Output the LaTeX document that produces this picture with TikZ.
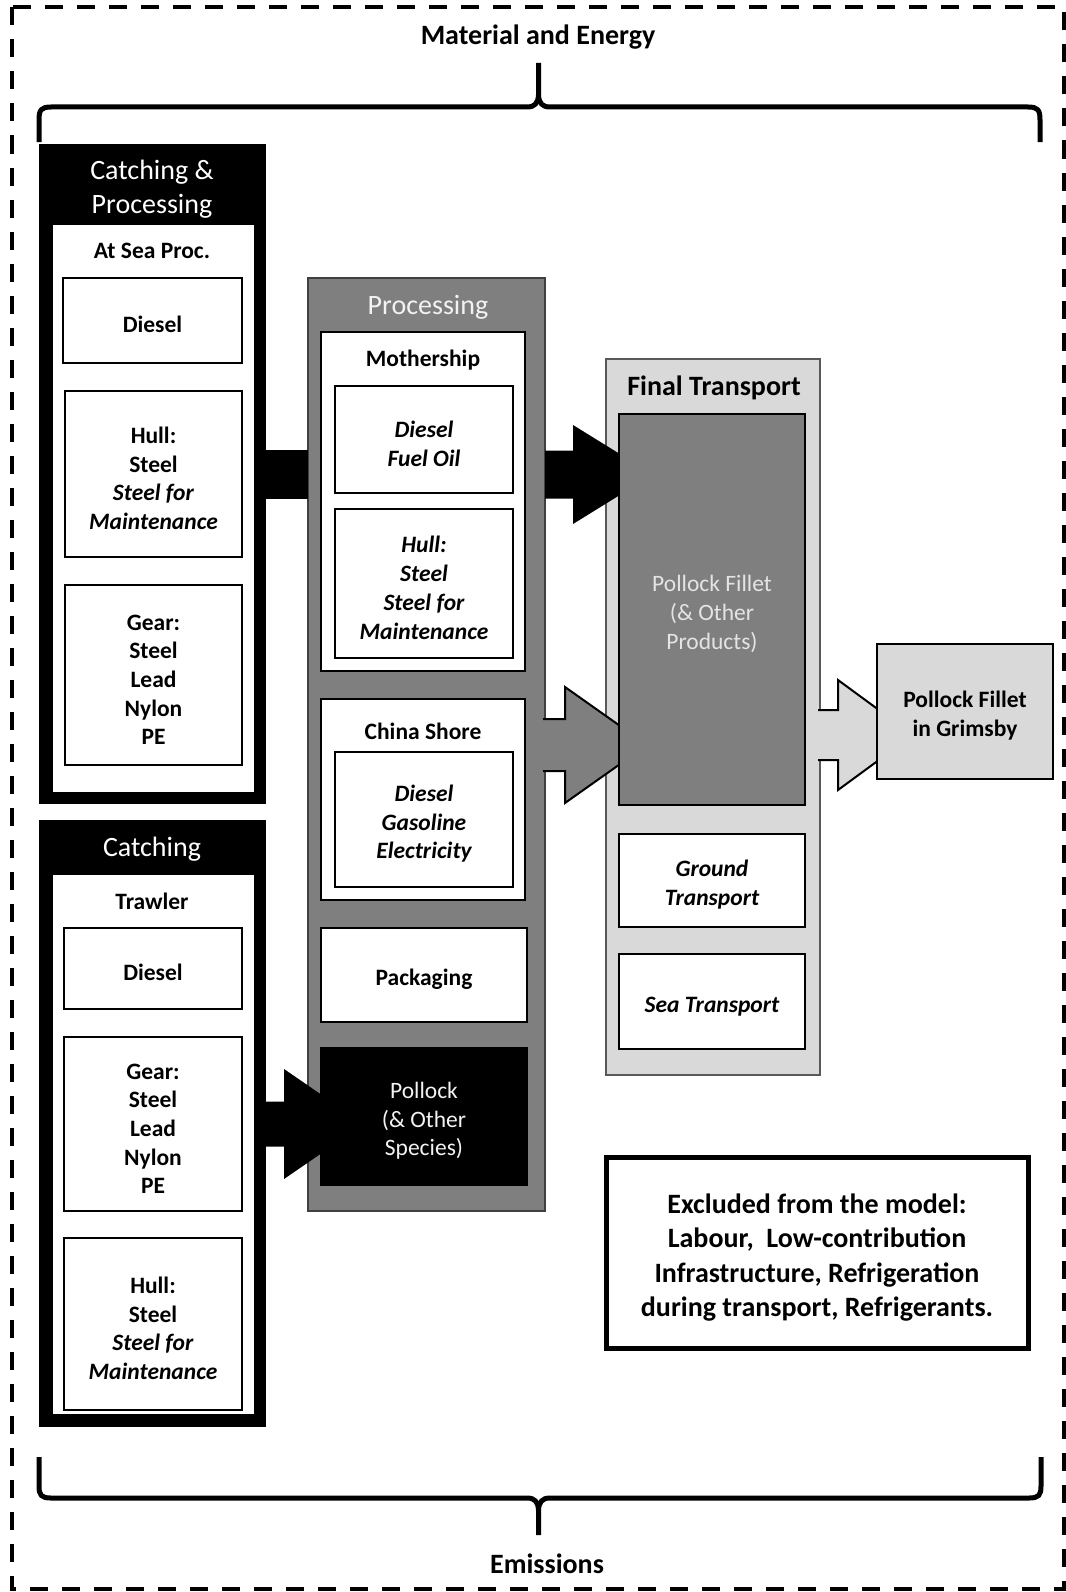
\documentclass[tikz,border=0pt]{standalone}
\usepackage{fontspec}
\setmainfont{Carlito}

\definecolor{midgray}{HTML}{7F7F7F}
\definecolor{palegray}{HTML}{D9D9D9}
\definecolor{lighttext}{HTML}{F2F2F2}
\definecolor{filltext}{HTML}{E4E4E4}

\newcommand\boxfont{\fontsize{23.5}{28.7}\selectfont}
\newcommand\headfont{\fontsize{28}{34.5}\selectfont}
% strut for the first line of a box text: sets the text block a little lower
\newcommand\fl{\rule{0pt}{1.07em}}

% block arrow: #1 fill, #2 start coordinate (left middle), #3 shaft length,
% #4 shaft half height, #5 head half height, #6 head length, #7 outline style
\newcommand\blockarrow[7]{%
  \fill[#1] (#2) ++(0,-#4) -- ++(#3,0) -- ++(0,#4-#5) -- ++(#6,#5)
    -- ++(-#6,#5) -- ++(0,#4-#5) -- ++(-#3,0) -- cycle;
  \draw[#7] (#2) ++(0,-#4) -- ++(#3,0) -- ++(0,#4-#5) -- ++(#6,#5)
    -- ++(-#6,#5) -- ++(0,#4-#5) -- ++(-#3,0);
}

\tikzset{
  % a node spanning the rectangle with corners (x1,y1) and (x2,y2)
  span/.style args={#1,#2,#3,#4}{anchor=center,
    at={({(#1+#3)/2},{(#2+#4)/2})},
    minimum width={(#3-#1)*1pt}, minimum height={(#4-#2)*1pt}},
  panel/.style={inner sep=0pt, outer sep=0pt, draw=none},
  box/.style={inner sep=0pt, outer sep=0pt, draw=black, line width=2pt,
    fill=white, align=center, font=\boxfont\bfseries},
  itbox/.style={box, font=\boxfont\bfseries\itshape},
  label/.style={inner sep=0pt, align=center, font=\boxfont\bfseries},
  heading/.style={inner sep=0pt, align=center, font=\headfont},
  brace/.style={line width=5pt, line join=round},
}

\begin{document}
\begin{tikzpicture}[x=1pt, y=-1pt]
\useasboundingbox (0,0) rectangle (1065,1592);
\fill[white] (0,0) rectangle (1065,1592);

% system boundary
\draw[line width=4pt, dash pattern=on 18pt off 14pt] (11.5,7.5) rectangle (1063.5,1589);

% inputs and outputs
\node[heading, font=\headfont\bfseries] (inputs) at (538,37) {Material and Energy};
\draw[brace] (39,142) -- (39,120) .. controls (39,110) and (41,107) .. (51,107)
  -- (527,107) .. controls (535,107) and (538,103) .. (538.5,95) -- (538.5,63);
\draw[brace] (538.5,95) .. controls (539,103) and (542,107) .. (550,107)
  -- (1028,107) .. controls (1038,107) and (1040,110) .. (1040,120) -- (1040,142);

\draw[brace] (39,1457) -- (39,1486) .. controls (39,1495) and (41,1498) .. (51,1498)
  -- (527,1498) .. controls (535,1498) and (538,1502) .. (538.5,1510) -- (538.5,1535);
\draw[brace] (538.5,1510) .. controls (539,1502) and (542,1498) .. (550,1498)
  -- (1029,1498) .. controls (1039,1498) and (1041,1495) .. (1041,1486) -- (1041,1457);
\node[heading, font=\headfont\bfseries] (outputs) at (547,1564) {Emissions};

% catching & processing (at-sea processing vessel)
\node[panel, fill=black, span={39,144,266,804}] (cpout) {};
\node[heading, text=white] (cptitle) at (152,189) {Catching \&\\Processing};
\node[panel, fill=white, span={53,225,254,792}] (cpin) {};
\node[label] (cpname) at (152,251) {At Sea Proc.};
\node[box, span={63,278,242,363}] (cpdiesel) {\fl Diesel};
\node[box, span={65,391,242,557}] (cphull) {\fl Hull:\\Steel\\\textit{Steel for}\\\textit{Maintenance}};
\node[box, span={65,585,242,765}] (cpgear) {\fl Gear:\\Steel\\Lead\\Nylon\\PE};

% catching (trawler)
\node[panel, fill=black, span={39,820,266,1427}] (cout) {};
\node[heading, text=white] (ctitle) at (152,849) {Catching};
\node[panel, fill=white, span={53,875,254,1414}] (cin) {};
\node[label] (cname) at (152,901) {Trawler};
\node[box, span={64,928,242,1009}] (cdiesel) {\fl Diesel};
\node[box, span={64,1037,242,1211}] (cgear) {\fl Gear:\\Steel\\Lead\\Nylon\\PE};
\node[box, span={64,1238,242,1410}] (chull) {\fl Hull:\\Steel\\\textit{Steel for}\\\textit{Maintenance}};

% processing
\node[panel, fill=midgray, draw=black!75, line width=2pt, span={308,278,545,1211}] (proc) {};
\node[heading, text=lighttext] (proctitle) at (428,307) {Processing};

% flows into processing
\fill[black] (cpout.east |- 0,450) rectangle (proc.west |- 0,499);
\coordinate (a5) at (cout.east |- 0,1124);
\blockarrow{black}{a5}{18}{22.5}{55}{80}{draw=none}

\node[box, span={321,332,525,671}] (moth) {};
\node[label] (mothname) at (423,360) {Mothership};
\node[itbox, span={335,386,513,493}] (mothfuel) {\fl Diesel\\Fuel Oil};
\node[itbox, span={335,509,513,658}] (mothhull) {\fl Hull:\\Steel\\Steel for\\Maintenance};

\node[box, span={321,699,525,900}] (shore) {};
\node[label] (shorename) at (423,731) {China Shore};
\node[itbox, span={335,752,513,887}] (shorefuel) {\fl Diesel\\Gasoline\\Electricity};

\node[box, span={321,928,527,1022}] (pack) {\fl Packaging};
\node[box, fill=black, draw=black, text=lighttext, font=\boxfont,
  span={321,1048,527,1185}] (pollock) {\fl Pollock\\(\& Other\\Species)};

% final transport
\node[panel, fill=palegray, draw=black!65, line width=2pt, span={606,359,820,1075}] (ft) {};
\node[heading, font=\headfont\bfseries] (fttitle) at (714,388) {Final Transport};

\coordinate (a2) at (proc.east |- 0,474.5);
\blockarrow{black}{a2}{28}{24}{49.5}{80}{draw=none}
\coordinate (a3) at ([xshift=-2pt]proc.east |- 0,745);
\blockarrow{midgray}{a3}{22}{26}{58}{82}{line width=2pt, line join=miter}

\node[box, fill=midgray, text=filltext, font=\boxfont, span={619,414,805,805}] (fillet)
  {\fl Pollock Fillet\\(\& Other\\Products)};
\node[itbox, span={619,834,805,927}] (ground) {\fl Ground\\Transport};
\node[itbox, span={619,954,805,1049}] (sea) {\fl Sea Transport};

% delivery
\coordinate (a4) at ([xshift=-2pt]ft.east |- 0,735);
\blockarrow{palegray}{a4}{20}{25}{55}{75}{line width=2pt, line join=miter}
\node[box, fill=palegray, span={877,644,1053,779}] (grimsby) {\fl Pollock Fillet\\in Grimsby};

% scope note
\node[box, line width=5pt, font=\headfont\bfseries, span={606,1157,1028,1348}] (excluded)
  {\fl Excluded from the model:\\Labour,\ \ Low-contribution\\Infrastructure, Refrigeration\\during transport, Refrigerants.};
\end{tikzpicture}
\end{document}
